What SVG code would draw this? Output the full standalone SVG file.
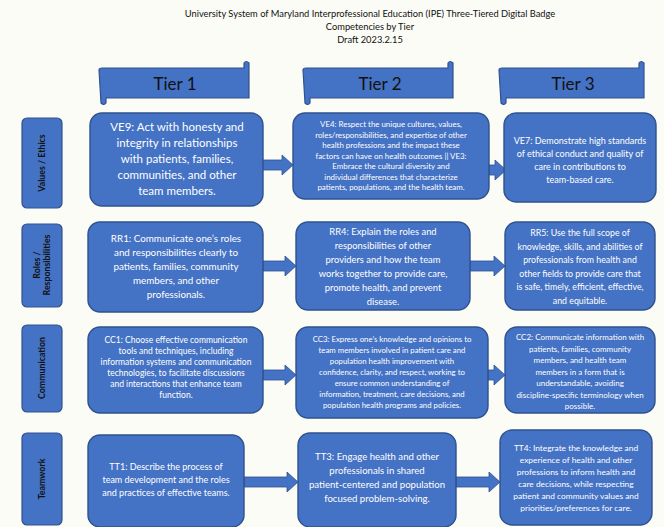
<svg xmlns="http://www.w3.org/2000/svg" width="664" height="527" viewBox="0 0 664 527">
<style>
.bg{fill:#fcfcf6}
.title{font-family:Lato,"Liberation Sans",sans-serif;font-size:9.3px;fill:#111;text-anchor:middle}
.banner{fill:#4472c4;stroke:#2f528f;stroke-width:1.2}
.tier{font-family:Lato,"Liberation Sans",sans-serif;font-size:17px;fill:#111;text-anchor:middle}
.lab{fill:#4472c4;stroke:#2f528f;stroke-width:1.2}
.labt{font-family:Lato,"Liberation Sans",sans-serif;font-size:8.8px;font-weight:bold;fill:#111;text-anchor:middle}
.box{fill:#4472c4;stroke:#2f528f;stroke-width:1.4}
.bt{font-family:Lato,"Liberation Sans",sans-serif;fill:#fff;text-anchor:middle}
.arrow{fill:#4472c4;stroke:#2f528f;stroke-width:0.8}
</style>
<rect class="bg" x="0" y="0" width="664" height="527"/>
<g id="title">
<text class="title" x="370" y="17">University System of Maryland Interprofessional Education (IPE) Three-Tiered Digital Badge</text>
<text class="title" x="370" y="30">Competencies by Tier</text>
<text class="title" x="370" y="43">Draft 2023.2.15</text>
</g>
<g id="tier1">
<path class="banner" d="M102,68 L244,68 L244,63 Q246,60 249,63 L249,98 L106,98 L106,103 Q104,106 101,103 L99,70 Q99,68 102,68 Z"/>
<text class="tier" x="175" y="90">Tier 1</text>
</g>
<g id="tier2">
<path class="banner" d="M306,68 L448,68 L448,63 Q450,60 453,63 L453,98 L310,98 L310,103 Q308,106 305,103 L303,70 Q303,68 306,68 Z"/>
<text class="tier" x="380" y="90">Tier 2</text>
</g>
<g id="tier3">
<path class="banner" d="M502,68 L639,68 L639,63 Q641,60 644,63 L644,98 L506,98 L506,103 Q504,106 501,103 L499,70 Q499,68 502,68 Z"/>
<text class="tier" x="573" y="90">Tier 3</text>
</g>
<g id="label-values">
<rect class="lab" x="22" y="118" width="40" height="90" rx="5"/>
<text class="labt" transform="translate(45,163) rotate(-90)">Values / Ethics</text>
</g>
<g id="label-roles">
<rect class="lab" x="22" y="224" width="40" height="83" rx="5"/>
<text class="labt" transform="translate(40,265) rotate(-90)">Roles /</text>
<text class="labt" transform="translate(50,265) rotate(-90)">Responsibilities</text>
</g>
<g id="label-communication">
<rect class="lab" x="22" y="325" width="40" height="87" rx="5"/>
<text class="labt" transform="translate(45,368) rotate(-90)">Communication</text>
</g>
<g id="label-teamwork">
<rect class="lab" x="22" y="433" width="40" height="92" rx="5"/>
<text class="labt" transform="translate(45,479) rotate(-90)">Teamwork</text>
</g>
<g id="connectors">
<polygon class="arrow" points="262,160 282,160 282,155 293,165 282,175 282,170 262,170"/>
<polygon class="arrow" points="489,165 495,165 495,160 506,170 495,180 495,175 489,175"/>
<polygon class="arrow" points="263,261 285,261 285,256 296,266 285,276 285,271 263,271"/>
<polygon class="arrow" points="470,261 494,261 494,256 505,266 494,276 494,271 470,271"/>
<polygon class="arrow" points="263,370 285,370 285,365 296,375 285,385 285,380 263,380"/>
<polygon class="arrow" points="488,370 494,370 494,365 505,375 494,385 494,380 488,380"/>
<polygon class="arrow" points="244,477 287,477 287,472 298,482 287,492 287,487 244,487"/>
<polygon class="arrow" points="456,477 489,477 489,472 500,482 489,492 489,487 456,487"/>
</g>
<g id="ve9">
<rect class="box" x="90" y="113" width="173" height="93" rx="12"/>
<text class="bt" style="font-size:11.5px"><tspan x="177" y="131">VE9: Act with honesty and</tspan><tspan x="177" y="147">integrity in relationships</tspan><tspan x="177" y="163">with patients, families,</tspan><tspan x="177" y="179">communities, and other</tspan><tspan x="177" y="195">team members.</tspan></text>
</g>
<g id="ve4">
<rect class="box" x="293" y="113" width="196" height="86" rx="12"/>
<text class="bt" style="font-size:7.9px"><tspan x="391" y="127">VE4: Respect the unique cultures, values,</tspan><tspan x="391" y="137.5">roles/responsibilities, and expertise of other</tspan><tspan x="391" y="148">health professions and the impact these</tspan><tspan x="391" y="158.5">factors can have on health outcomes || VE3:</tspan><tspan x="391" y="169">Embrace the cultural diversity and</tspan><tspan x="391" y="179.5">individual differences that characterize</tspan><tspan x="391" y="190">patients, populations, and the health team.</tspan></text>
</g>
<g id="ve7">
<rect class="box" x="504" y="113" width="152" height="89" rx="12"/>
<text class="bt" style="font-size:9px"><tspan x="580" y="144">VE7: Demonstrate high standards</tspan><tspan x="580" y="157">of ethical conduct and quality of</tspan><tspan x="580" y="170">care in contributions to</tspan><tspan x="580" y="183">team-based care.</tspan></text>
</g>
<g id="rr1">
<rect class="box" x="88" y="222" width="175" height="90" rx="12"/>
<text class="bt" style="font-size:9.8px"><tspan x="176" y="242">RR1: Communicate one’s roles</tspan><tspan x="176" y="256">and responsibilities clearly to</tspan><tspan x="176" y="270">patients, families, community</tspan><tspan x="176" y="284">members, and other</tspan><tspan x="176" y="298">professionals.</tspan></text>
</g>
<g id="rr4">
<rect class="box" x="296" y="222" width="174" height="88" rx="12"/>
<text class="bt" style="font-size:9.4px"><tspan x="383" y="235">RR4: Explain the roles and</tspan><tspan x="383" y="249">responsibilities of other</tspan><tspan x="383" y="263">providers and how the team</tspan><tspan x="383" y="277">works together to provide care,</tspan><tspan x="383" y="291">promote health, and prevent</tspan><tspan x="383" y="305">disease.</tspan></text>
</g>
<g id="rr5">
<rect class="box" x="505" y="222" width="150" height="88" rx="12"/>
<text class="bt" style="font-size:8.8px"><tspan x="580" y="236">RR5: Use the full scope of</tspan><tspan x="580" y="249.5">knowledge, skills, and abilities of</tspan><tspan x="580" y="263">professionals from health and</tspan><tspan x="580" y="276.5">other fields to provide care that</tspan><tspan x="580" y="290">is safe, timely, efficient, effective,</tspan><tspan x="580" y="303.5">and equitable.</tspan></text>
</g>
<g id="cc1">
<rect class="box" x="88" y="327" width="175" height="86" rx="12"/>
<text class="bt" style="font-size:8.5px"><tspan x="176" y="343">CC1: Choose effective communication</tspan><tspan x="176" y="354">tools and techniques, including</tspan><tspan x="176" y="365">information systems and communication</tspan><tspan x="176" y="376">technologies, to facilitate discussions</tspan><tspan x="176" y="387">and interactions that enhance team</tspan><tspan x="176" y="398">function.</tspan></text>
</g>
<g id="cc3">
<rect class="box" x="296" y="327" width="192" height="91" rx="12"/>
<text class="bt" style="font-size:7.8px"><tspan x="392" y="342">CC3: Express one’s knowledge and opinions to</tspan><tspan x="392" y="353">team members involved in patient care and</tspan><tspan x="392" y="364">population health improvement with</tspan><tspan x="392" y="375">confidence, clarity, and respect, working to</tspan><tspan x="392" y="386">ensure common understanding of</tspan><tspan x="392" y="397">information, treatment, care decisions, and</tspan><tspan x="392" y="408">population health programs and policies.</tspan></text>
</g>
<g id="cc2">
<rect class="box" x="505" y="327" width="150" height="86" rx="12"/>
<text class="bt" style="font-size:8px"><tspan x="580" y="340">CC2: Communicate information with</tspan><tspan x="580" y="351.5">patients, families, community</tspan><tspan x="580" y="363">members, and health team</tspan><tspan x="580" y="374.5">members in a form that is</tspan><tspan x="580" y="386">understandable, avoiding</tspan><tspan x="580" y="397.5">discipline-specific terminology when</tspan><tspan x="580" y="409">possible.</tspan></text>
</g>
<g id="tt1">
<rect class="box" x="88" y="435" width="156" height="92" rx="12"/>
<text class="bt" style="font-size:9px"><tspan x="166" y="470">TT1: Describe the process of</tspan><tspan x="166" y="483">team development and the roles</tspan><tspan x="166" y="496">and practices of effective teams.</tspan></text>
</g>
<g id="tt3">
<rect class="box" x="298" y="433" width="158" height="94" rx="12"/>
<text class="bt" style="font-size:9.6px"><tspan x="377" y="460">TT3: Engage health and other</tspan><tspan x="377" y="474">professionals in shared</tspan><tspan x="377" y="488">patient-centered and population</tspan><tspan x="377" y="502">focused problem-solving.</tspan></text>
</g>
<g id="tt4">
<rect class="box" x="500" y="430" width="152" height="95" rx="12"/>
<text class="bt" style="font-size:8.4px"><tspan x="576" y="451">TT4: Integrate the knowledge and</tspan><tspan x="576" y="463">experience of health and other</tspan><tspan x="576" y="475">professions to inform health and</tspan><tspan x="576" y="487">care decisions, while respecting</tspan><tspan x="576" y="499">patient and community values and</tspan><tspan x="576" y="511">priorities/preferences for care.</tspan></text>
</g>
</svg>
